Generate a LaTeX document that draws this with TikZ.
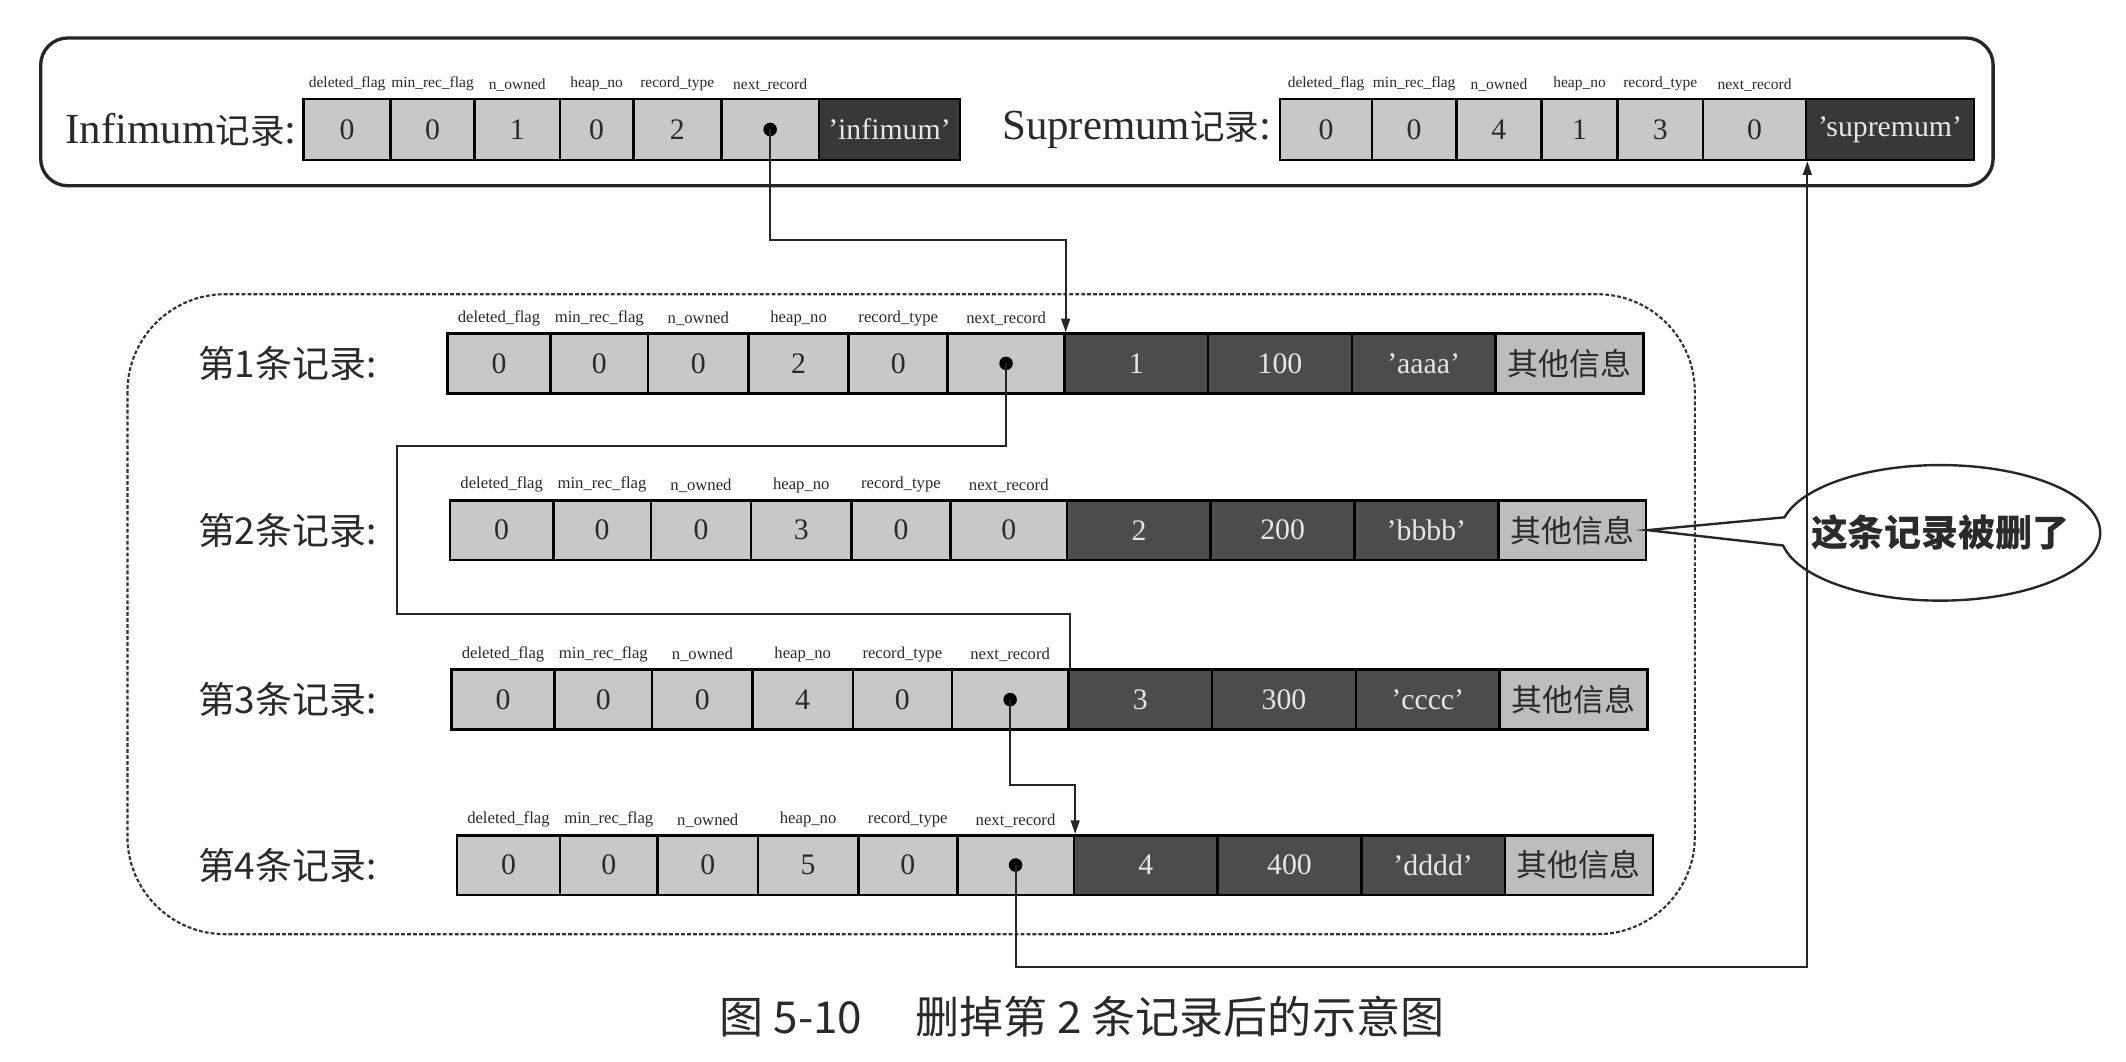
\documentclass[tikz,border=0pt]{standalone}
\usepackage{fontspec}
\setmainfont{Liberation Serif}
\newfontfamily\cjk{Noto Sans CJK SC}
\usetikzlibrary{arrows.meta,shapes.callouts,calc}
\definecolor{lightcell}{HTML}{C8C8C8}
\definecolor{darkcell}{HTML}{4C4C4C}
\definecolor{blackcell}{HTML}{383838}
\definecolor{othercell}{HTML}{BDBDBD}
\definecolor{paletext}{HTML}{E6E6E6}
\definecolor{ink}{HTML}{2A2A2A}

\newcommand\mkcell[7]{%
  \pgfmathsetmacro\cellw{((#3)-(#2))*0.02}%
  \pgfmathsetmacro\cellh{(#5)*0.02}%
  \node[#6, minimum width=\cellw cm, minimum height=\cellh cm] (#1) at ({((#2)+(#3))/2},#4) {#7};%
}

\newcommand\recrow[8]{%
  \mkcell{r#1c1}{#2}{#2+76}{#3}{44}{lightc}{0}%
  \mkcell{r#1c2}{#2+76}{#2+148}{#3}{44}{lightc}{0}%
  \mkcell{r#1c3}{#2+148}{#2+222}{#3}{44}{lightc}{0}%
  \mkcell{r#1c4}{#2+222}{#2+296}{#3}{44}{lightc}{#4}%
  \mkcell{r#1c5}{#2+296}{#2+369}{#3}{44}{lightc}{0}%
  \mkcell{r#1c6}{#2+369}{#2+455}{#3}{44}{lightc}{#5}%
  \mkcell{r#1c7}{#2+455}{#2+561}{#3}{44}{darkc}{#6}%
  \mkcell{r#1c8}{#2+561}{#2+667}{#3}{44}{darkc}{#7}%
  \mkcell{r#1c9}{#2+667}{#2+773}{#3}{44}{darkc}{#8}%
  \mkcell{r#1c10}{#2+773}{#2+882}{#3}{44}{otherc}{其他信息}%
  \foreach \c/\ftxt in {1/deleted\_flag,2/min\_rec\_flag,3/n\_owned,4/heap\_no,5/record\_type,6/next\_record}
    {\node[fieldlab] (r#1l\c) at (r#1c\c.north) {\ftxt};}%
}

\begin{document}
\begin{tikzpicture}[x=0.02cm,y=-0.02cm,
  cellbase/.style={draw=black, line width=1.1pt, inner sep=0pt, font=\fontsize{12.5}{14}\selectfont},
  lightc/.style={cellbase, fill=lightcell, text=ink},
  darkc/.style={cellbase, fill=darkcell, text=paletext},
  blackc/.style={cellbase, fill=blackcell, text=paletext},
  otherc/.style={cellbase, fill=othercell, text=ink, font=\cjk\fontsize{13}{15}\selectfont},
  fieldlab/.style={anchor=south, inner sep=0pt, yshift=2.5pt, text=ink, font=\fontsize{7}{8}\selectfont},
  topfield/.style={fieldlab, font=\fontsize{6.5}{7.5}\selectfont},
  toplab/.style={anchor=east, inner sep=0pt, text=ink, font=\fontsize{18}{20}\selectfont},
  rowlab/.style={anchor=east, inner sep=0pt, text=ink, font=\cjk\fontsize{15.5}{17}\selectfont},
  dotn/.style={circle, fill=black, inner sep=0pt, minimum size=0.2cm},
  conn/.style={draw=black!85, line width=0.8pt},
  arr/.style={-{Triangle[length=0.2cm,width=0.13cm]}},
  dashbox/.style={draw=black!80, line width=0.9pt, dash pattern=on 1.6pt off 0.9pt, rounded corners=1.44cm},
  topbox/.style={draw=black!85, line width=1.4pt, rounded corners=0.4cm}
]
\fill[white] (0,0) rectangle (1568,783);
\useasboundingbox (0,0) rectangle (1568,783);

% top frame
\draw[topbox] (30,28) rectangle (1470,137);

% infimum record
\node[toplab] (inflab) at (219,95.5) {Infimum{\cjk\fontsize{14.5}{16}\selectfont 记录}:};
\mkcell{i1}{224}{288}{95.5}{45}{lightc}{0}
\mkcell{i2}{288}{350}{95.5}{45}{lightc}{0}
\mkcell{i3}{350}{413}{95.5}{45}{lightc}{1}
\mkcell{i4}{413}{467}{95.5}{45}{lightc}{0}
\mkcell{i5}{467}{532}{95.5}{45}{lightc}{2}
\mkcell{i6}{532}{604}{95.5}{45}{lightc}{}
\mkcell{i7}{604}{708}{95.5}{45}{blackc}{'infimum'}
\foreach \c/\ftxt in {1/deleted\_flag,2/min\_rec\_flag,3/n\_owned,4/heap\_no,5/record\_type,6/next\_record}
  {\node[topfield] (il\c) at (i\c.north) {\ftxt};}
\node[dotn] (idot) at (i6) {};

% supremum record
\node[toplab] (suplab) at (938,95.5) {Supremum{\cjk\fontsize{14.5}{16}\selectfont 记录}:};
\mkcell{s1}{944}{1012}{95.5}{45}{lightc}{0}
\mkcell{s2}{1012}{1074}{95.5}{45}{lightc}{0}
\mkcell{s3}{1074}{1137}{95.5}{45}{lightc}{4}
\mkcell{s4}{1137}{1193}{95.5}{45}{lightc}{1}
\mkcell{s5}{1193}{1256}{95.5}{45}{lightc}{3}
\mkcell{s6}{1256}{1332}{95.5}{45}{lightc}{0}
\mkcell{s7}{1332}{1456}{95.5}{45}{blackc}{'supremum'}
\foreach \c/\ftxt in {1/deleted\_flag,2/min\_rec\_flag,3/n\_owned,4/heap\_no,5/record\_type,6/next\_record}
  {\node[topfield] (sl\c) at (s\c.north) {\ftxt};}

% dashed frame
\draw[dashbox] (94,217) rectangle (1250,689);

% user records
\node[rowlab] (lab1) at (278,268) {第1条记录:};
\node[rowlab] (lab2) at (278,391) {第2条记录:};
\node[rowlab] (lab3) at (278,516) {第3条记录:};
\node[rowlab] (lab4) at (278,638) {第4条记录:};
\recrow{1}{330}{268}{2}{}{1}{100}{'aaaa'}
\recrow{2}{332}{391}{3}{0}{2}{200}{'bbbb'}
\recrow{3}{333}{516}{4}{}{3}{300}{'cccc'}
\recrow{4}{337}{638}{5}{}{4}{400}{'dddd'}
\node[dotn] (r1dot) at (r1c6) {};
\node[dotn] (r3dot) at (r3c6) {};
\node[dotn] (r4dot) at (r4c6) {};

% connectors
\coordinate (h1) at (0,177);
\coordinate (h2a) at (293,329);
\coordinate (h2b) at (0,453);
\coordinate (h3) at (0,579);
\coordinate (h4) at (0,713);
\draw[conn,arr] (idot.center) -- (idot.center |- h1) -| (r1c6.north east);
\draw[conn] (r1dot.center) |- (h2a) |- (r3c6.north east |- h2b) -- (r3c6.north east);
\draw[conn,arr] (r3dot.center) -- (r3dot.center |- h3) -| (r4c6.north east);
\draw[conn,arr] (r4dot.center) -- (r4dot.center |- h4) -| (s6.south east);

% callout
\node[ellipse callout, draw=black!85, line width=1pt, inner sep=0pt,
      minimum width=4.72cm, minimum height=2.0cm,
      callout absolute pointer={(r2c10.east)}, callout pointer arc=24,
      text=ink, font=\cjk\bfseries\fontsize{15.5}{17}\selectfont] (bubble) at (1431,393)
      {\makebox[2.8cm]{这条记录被删了}};

% caption
\node[text=ink, font=\cjk\fontsize{18.5}{20}\selectfont] (cap) at (798,750) {图 5-10\hspace{1.2em}删掉第 2 条记录后的示意图};
\end{tikzpicture}
\end{document}
